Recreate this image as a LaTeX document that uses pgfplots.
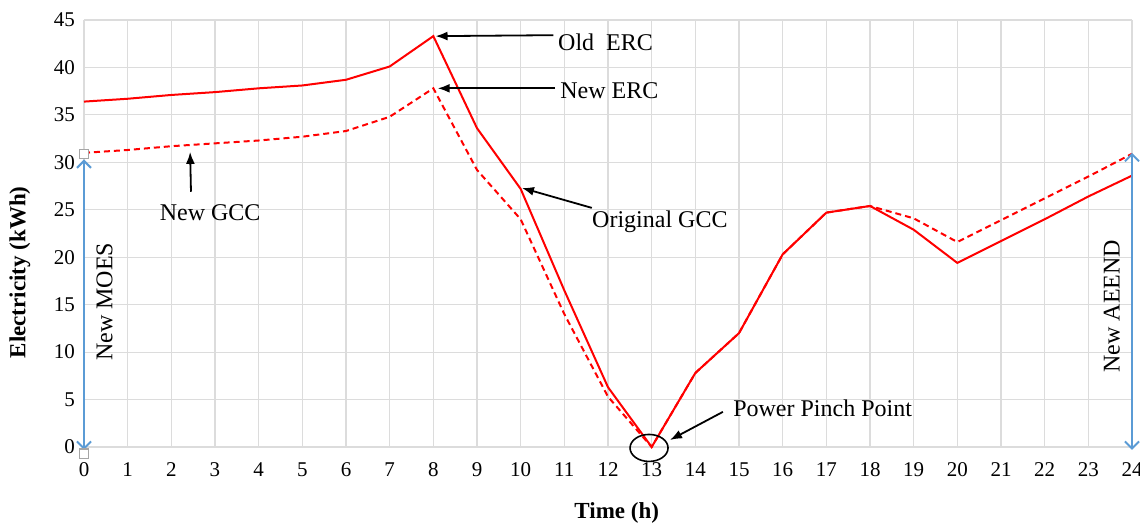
\documentclass[border=0pt]{standalone}
\usepackage{fontspec}
\setmainfont{Liberation Serif}
\usepackage{pgfplots}
\pgfplotsset{compat=1.18}
\usetikzlibrary{arrows.meta}
\definecolor{gridgray}{RGB}{220,220,220}
\definecolor{arrowblue}{RGB}{91,155,213}
\begin{document}
\begin{tikzpicture}
\begin{axis}[
  scale only axis, width=524pt, height=213.5pt,
  xmin=0, xmax=24, ymin=0, ymax=45,
  xtick={0,...,24}, ytick={0,5,...,45},
  grid=major, major grid style={gridgray, line width=0.6pt},
  axis line style={draw=none},
  tick style={draw=none},
  clip=false,
  /pgf/number format/assume math mode=true,
  tick label style={font=\fontsize{10.5}{12}\selectfont},
  xticklabel style={anchor=center, yshift=-11.5pt},
  yticklabel style={anchor=east, xshift=-1pt},
]
\addplot[red, line width=1pt] coordinates {
(0,36.4) (1,36.7) (2,37.1) (3,37.4) (4,37.8) (5,38.1) (6,38.7) (7,40.1) (8,43.3)
(9,33.6) (10,27.2) (11,16.5) (12,6.3) (13,0) (14,7.8) (15,12) (16,20.3) (17,24.7)
(18,25.4) (19,22.9) (20,19.4) (21,21.7) (22,24.0) (23,26.4) (24,28.6)};
\addplot[red, line width=1pt, dash pattern=on 3pt off 2pt] coordinates {
(0,31.0) (1,31.3) (2,31.7) (3,32.0) (4,32.3) (5,32.7) (6,33.3) (7,34.8) (8,37.8)
(9,29.2) (10,24.0) (11,14.0) (12,5.3) (13,0) (14,7.8) (15,12) (16,20.3) (17,24.7)
(18,25.4) (19,24.1) (20,21.6) (21,23.9) (22,26.2) (23,28.5) (24,30.9)};
\addplot[arrowblue, line width=1pt, {Straight Barb[length=3.5pt,width=7pt]}-{Straight Barb[length=3.5pt,width=7pt]}] coordinates {(0,-0.3) (0,30.3)};
\addplot[arrowblue, line width=1pt, {Straight Barb[length=3.5pt,width=7pt]}-{Straight Barb[length=3.5pt,width=7pt]}] coordinates {(24,-0.3) (24,31.0)};
\addplot[only marks, mark=square*, mark size=2.3pt, mark options={draw=gray!70, fill=white, line width=0.6pt}] coordinates {(0,30.9) (0,-0.7)};
% annotations
\draw[black, line width=0.9pt, -{Latex[length=6pt,width=4.5pt]}] (axis cs:10.75,43.4) -- (axis cs:8.05,43.3);
\node[anchor=west, inner sep=0pt, font=\fontsize{12}{14}\selectfont] at (axis cs:10.85,42.7) {Old\ \ ERC};
\draw[black, line width=0.9pt, -{Latex[length=6pt,width=4.5pt]}] (axis cs:10.79,37.8) -- (axis cs:8.1,37.8);
\node[anchor=west, inner sep=0pt, font=\fontsize{12}{14}\selectfont] at (axis cs:10.9,37.6) {New ERC};
\draw[black, line width=0.9pt, -{Latex[length=6pt,width=4.5pt]}] (axis cs:11.63,25.2) -- (axis cs:10.03,27.3);
\node[anchor=west, inner sep=0pt, font=\fontsize{12}{14}\selectfont] at (axis cs:11.63,23.7) {Original GCC};
\draw[black, line width=0.9pt, -{Latex[length=6pt,width=4.5pt]}] (axis cs:2.45,26.9) -- (axis cs:2.43,31.1);
\node[inner sep=0pt, font=\fontsize{12}{14}\selectfont] at (axis cs:2.89,24.7) {New GCC};
\draw[black, line width=0.9pt, -{Latex[length=6pt,width=4.5pt]}] (axis cs:14.63,3.7) -- (axis cs:13.42,0.74);
\node[anchor=west, inner sep=0pt, font=\fontsize{12}{14}\selectfont] at (axis cs:14.86,4.1) {Power Pinch Point};
\draw[black, line width=0.8pt] (axis cs:12.94,-0.1) ellipse [x radius=9.5pt, y radius=6.75pt];
\node[rotate=90, inner sep=0pt, font=\fontsize{12}{14}\selectfont] at (axis cs:0.47,15.3) {New MOES};
\node[rotate=90, inner sep=0pt, font=\fontsize{12}{14}\selectfont] at (axis cs:23.54,14.85) {New AEEND};
\node[rotate=90, inner sep=0pt, font=\bfseries\fontsize{11.5}{14}\selectfont] at ([xshift=-32pt]axis cs:0,18.4) {Electricity (kWh)};
\node[inner sep=0pt, font=\bfseries\fontsize{11.5}{14}\selectfont] at ([yshift=-33pt]axis cs:12.2,0) {Time (h)};
\end{axis}
\pgfresetboundingbox
\path[use as bounding box] (-42pt,-39pt) rectangle (528pt,223.5pt);
\end{tikzpicture}
\end{document}
